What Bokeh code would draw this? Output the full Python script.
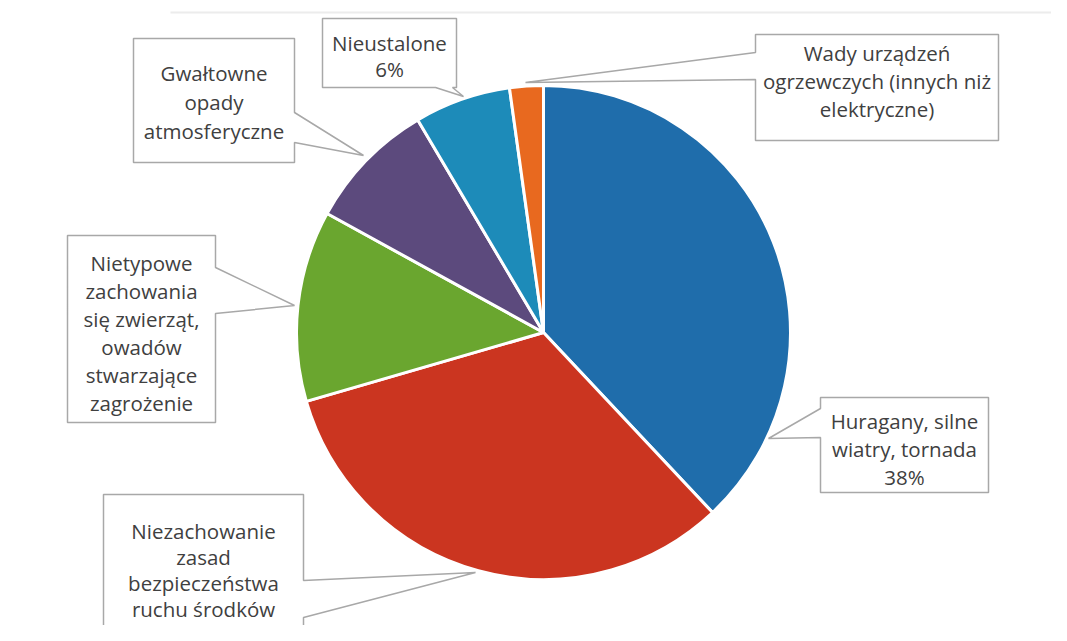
import numpy as np
from bokeh.plotting import figure
from bokeh.models import ColumnDataSource, Range1d
from bokeh.core.properties import value
from bokeh.embed import file_html
from bokeh.resources import INLINE

# ---- data (clockwise from 12 o'clock) ----
categories = [
    "Huragany, silne wiatry, tornada",
    "Niezachowanie zasad bezpieczeństwa ruchu środków",
    "Nietypowe zachowania się zwierząt, owadów stwarzające zagrożenie",
    "Gwałtowne opady atmosferyczne",
    "Nieustalone",
    "Wady urządzeń ogrzewczych (innych niż elektryczne)",
]
shares = [38.0, 32.5, 12.5, 8.5, 6.3, 2.2]
colors = ["#1f6dab", "#cb3520", "#6aa62f", "#5c4a7d", "#1d8bb9", "#e8691f"]

label_lines = [
    ["Huragany, silne", "wiatry, tornada", "38%"],
    ["Niezachowanie", "zasad", "bezpieczeństwa", "ruchu środków"],
    ["Nietypowe", "zachowania", "się zwierząt,", "owadów", "stwarzające", "zagrożenie"],
    ["Gwałtowne", "opady", "atmosferyczne"],
    ["Nieustalone", "6%"],
    ["Wady urządzeń", "ogrzewczych (innych niż", "elektryczne)"],
]

# ---- layout (reference pixel coordinates; y measured from top) ----
W, H = 1067, 641
def Y(v):
    return H - v

CX, CY, R = 543, 332, 247

# callout boxes: (x0, y0, x1, y1), pointer side, pointer base (a, b), tip (x, y),
# first text line y, line spacing
callouts = [
    dict(box=(820, 397, 988, 492), side="left", base=(408, 437), tip=(768, 438), ty=420, dy=28),
    dict(box=(103, 494, 303, 660), side="right", base=(580, 617), tip=(475, 572), ty=530, dy=26),
    dict(box=(67, 235, 215, 422), side="right", base=(267, 313), tip=(294, 305), ty=262, dy=28),
    dict(box=(133, 38, 294, 162), side="right", base=(112, 142), tip=(363, 155), ty=72, dy=29),
    dict(box=(322, 18, 456, 87), side="bottom", base=(435, 452), tip=(463, 96), ty=42, dy=26),
    dict(box=(755, 34, 998, 140), side="left", base=(52, 79), tip=(525, 82), ty=52, dy=28),
]

# ---- figure ----
p = figure(width=1051, height=625, output_backend="svg", toolbar_location=None,
           x_range=Range1d(0, 1051), y_range=Range1d(16, 641),
           x_axis_location=None, y_axis_location=None, min_border=0)
p.outline_line_color = None
p.grid.visible = False
p.background_fill_color = "white"
p.border_fill_color = "white"

# faint scan line at top
p.line(x=[170, 1067], y=[Y(12), Y(12)], line_color="#ececec", line_width=2)

# ---- pie ----
frac = np.array(shares) / sum(shares)
cum = np.concatenate([[0.0], np.cumsum(frac)])
start = np.pi / 2 - 2 * np.pi * cum[:-1]
end = np.pi / 2 - 2 * np.pi * cum[1:]
src = ColumnDataSource(dict(category=categories, share=shares, color=colors,
                            start=start, end=end))
p.wedge(x=CX, y=Y(CY), radius=R, start_angle="start", end_angle="end",
        direction="clock", fill_color="color", line_color="white",
        line_width=3, source=src)

# ---- callouts ----
xs_list, ys_list = [], []
tx, ty, tt = [], [], []
for c, lines in zip(callouts, label_lines):
    x0, y0, x1, y1 = c["box"]
    a, b = c["base"]
    px, py = c["tip"]
    if c["side"] == "right":
        pts = [(x0, y0), (x1, y0), (x1, a), (px, py), (x1, b), (x1, y1), (x0, y1)]
    elif c["side"] == "left":
        pts = [(x0, y0), (x1, y0), (x1, y1), (x0, y1), (x0, b), (px, py), (x0, a)]
    else:  # bottom
        pts = [(x0, y0), (x1, y0), (x1, y1), (b, y1), (px, py), (a, y1), (x0, y1)]
    xs_list.append([q[0] for q in pts])
    ys_list.append([Y(q[1]) for q in pts])
    cxm = (x0 + x1) / 2
    for i, ln in enumerate(lines):
        tx.append(cxm)
        ty.append(Y(c["ty"] + i * c["dy"]))
        tt.append(ln)

p.patches(xs=xs_list, ys=ys_list, fill_color="white", line_color="#a8a8a8",
          line_width=1.5)
p.text(x=tx, y=ty, text=tt, text_align="center", text_baseline="middle",
       text_font=value("Open Sans"), text_font_size="20.5px", text_color="#404040")

open("out.html", "w").write(file_html(p, INLINE))
